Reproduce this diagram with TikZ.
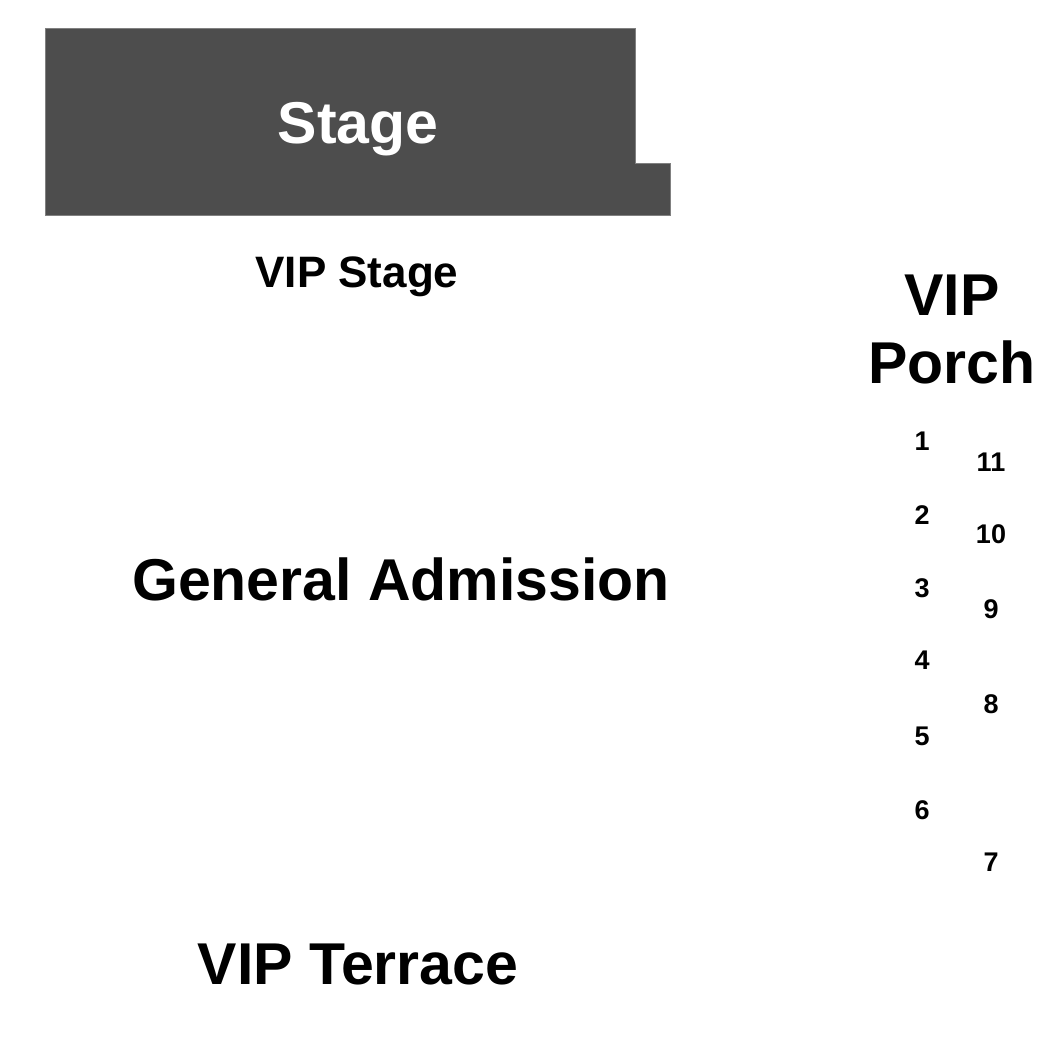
\documentclass[tikz,border=0pt]{standalone}
\usepackage{fontspec}
\setmainfont{Liberation Sans}
\definecolor{stagegray}{HTML}{4D4D4D}
\tikzset{
    area/.style={font=\bfseries\fontsize{59}{68}\selectfont,anchor=base,align=center},
    seat/.style={font=\bfseries\fontsize{27}{30}\selectfont,anchor=base}
}
\begin{document}
\begin{tikzpicture}[x=1pt,y=-1pt]
    \useasboundingbox (0,0) rectangle (1050,1050);
    %% stage
    \draw[fill=stagegray,draw=gray] (45,28) -- (635,28) -- (635,163) -- (670,163) -- (670,215) -- (45,215) -- cycle;
    \node[area,text=white] (stage) at (358,143) {Stage};
    %% areas
    \node[area,font=\bfseries\fontsize{44}{50}\selectfont] (vipstage) at (357,287) {VIP Stage};
    \node[area] (ga) at (401,600) {General Admission};
    \node[area] (porch) at (952,383) {VIP\\Porch};
    \node[area] (terrace) at (358,984) {VIP Terrace};
    %% porch seats
    \foreach \x/\y/\n in {922/450/1,922/524/2,922/597/3,922/669/4,922/745/5,922/819/6,
                          991/871/7,991/713/8,991/618/9,991/543/10,991/471/11}
        \node[seat] (seat\n) at (\x,\y) {\n};
\end{tikzpicture}
\end{document}
